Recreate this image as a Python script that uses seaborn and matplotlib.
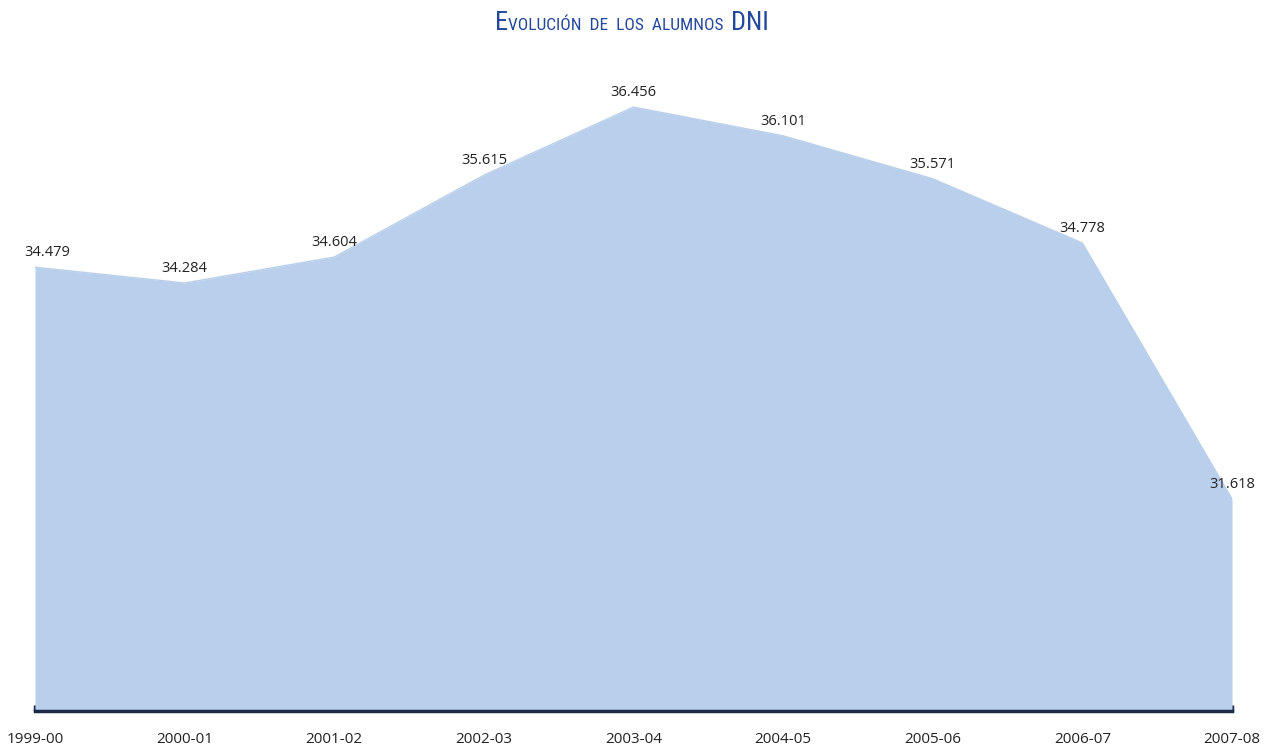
import pandas as pd
import seaborn as sns
import matplotlib.pyplot as plt
from matplotlib import font_manager

# Data
cursos = ['1999-00', '2000-01', '2001-02', '2002-03', '2003-04',
          '2004-05', '2005-06', '2006-07', '2007-08']
alumnos = [34479, 34284, 34604, 35615, 36456, 36101, 35571, 34778, 31618]
etiquetas = ['34.479', '34.284', '34.604', '35.615', '36.456',
             '36.101', '35.571', '34.778', '31.618']

data = pd.DataFrame({'pos': range(len(cursos)), 'curso': cursos, 'alumnos': alumnos})

sns.set_style('white')
plt.rcParams['font.family'] = ['Open Sans', 'DejaVu Sans']

fig = plt.figure(figsize=(12.69, 7.49), dpi=100)
ax = fig.add_axes([35 / 1269, 38 / 749, 1197 / 1269, 648 / 749])

fill = '#B9CFEB'
sns.lineplot(x='pos', y='alumnos', data=data, color=fill, linewidth=1, ax=ax)
ax.fill_between(data['pos'], 29000, data['alumnos'], color=fill, linewidth=0)

ax.set_xlim(0, len(cursos) - 1)
ax.set_ylim(29000, 37000)

for x, y, t in zip(data['pos'], data['alumnos'], etiquetas):
    dx = 9 if x == 0 else 0
    ax.annotate(t, (x, y), xytext=(dx, 5), textcoords='offset points',
                ha='center', va='bottom', fontsize=10.5, color='#222222',
                annotation_clip=False)

# Axes styling
for s in ['top', 'right', 'left']:
    ax.spines[s].set_visible(False)
ax.spines['bottom'].set_color('#1B2A47')
ax.spines['bottom'].set_linewidth(2.5)
ax.set_yticks([])
ax.set_xticks(data['pos'])
ax.set_xticklabels(cursos, fontsize=11, color='#222222')
ax.tick_params(axis='x', direction='in', length=4, width=2.5, color='#1B2A47',
               pad=15, bottom=True)
ax.set_xlabel('')
ax.set_ylabel('')

# Title in small caps, narrow font if one is around
tfont = 'DejaVu Sans'
for f in ['Liberation Sans Narrow', 'DejaVu Sans Condensed', 'Roboto Condensed']:
    try:
        font_manager.findfont(f, fallback_to_default=False)
        tfont = f
        break
    except ValueError:
        pass

navy = '#23479A'
parts = [('E', 19), ('VOLUCIÓN  DE  LOS  ALUMNOS  ', 12.5), ('DNI', 19)]
fig.canvas.draw()
r = fig.canvas.get_renderer()
pieces = []
xpix = 0
for txt, size in parts:
    t = fig.text(0, 0.96, txt, fontsize=size, color=navy, family=tfont,
                 ha='left', va='baseline')
    pieces.append((t, xpix))
    xpix += t.get_window_extent(r).width
x0 = 632 - xpix / 2
for t, off in pieces:
    t.set_x((x0 + off) / 1269)

fig.savefig('out.png', dpi=100)
